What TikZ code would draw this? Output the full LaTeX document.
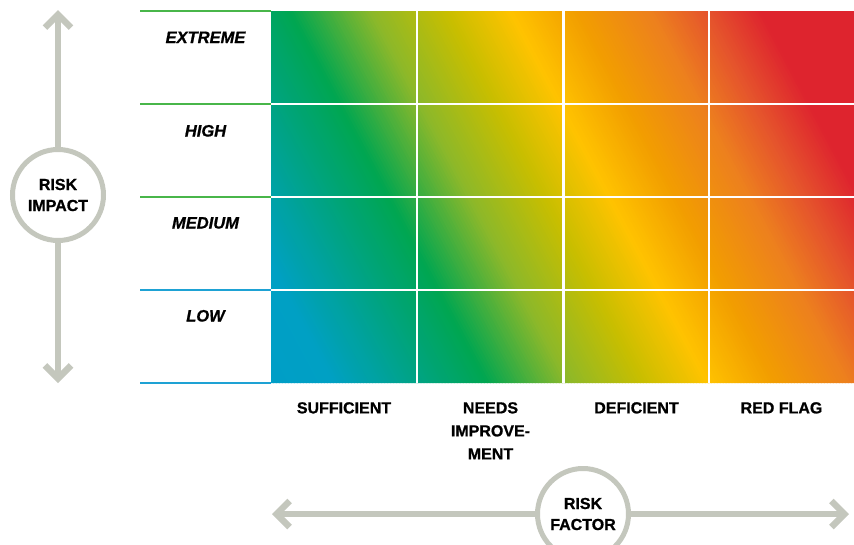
\documentclass[tikz,border=0pt]{standalone}
\usepackage{fontspec}
\setmainfont{Liberation Sans}[BoldFeatures={FakeBold=0.9},BoldItalicFeatures={FakeBold=0.9}]
\definecolor{rgray}{RGB}{196,199,189}
\definecolor{lgreen}{RGB}{72,182,74}
\definecolor{lblue}{RGB}{30,162,212}
\definecolor{g0}{RGB}{0,157,200}
\definecolor{g1}{RGB}{0,160,196}
\definecolor{g2}{RGB}{0,166,81}
\definecolor{g3}{RGB}{140,184,42}
\definecolor{g4}{RGB}{200,190,0}
\definecolor{g5}{RGB}{255,195,0}
\definecolor{g6}{RGB}{242,158,0}
\definecolor{g7}{RGB}{237,128,30}
\definecolor{g8}{RGB}{229,84,44}
\definecolor{g9}{RGB}{222,36,46}
\definecolor{g10}{RGB}{222,36,46}
\begin{document}
\begin{tikzpicture}[x=1pt,y=-1pt,
  rowlab/.style={font=\fontsize{16.5}{20}\selectfont\bfseries\itshape, anchor=base, inner sep=0pt},
  collab/.style={font=\fontsize{16}{23}\selectfont\bfseries, anchor=north, inner sep=0pt, align=center},
  circ/.style={circle, draw=rgray, line width=5pt, fill=white, minimum size=91pt, inner sep=0pt, align=center, font=\fontsize{16}{21}\selectfont\bfseries},
  shaft/.style={draw=rgray, line width=6.5pt},
  barb/.style={draw=rgray, line width=6.5pt, line join=miter},
  rowline/.style={line width=2.5pt},
  gridline/.style={draw=white, line width=2.5pt}]
\useasboundingbox (0,0) rectangle (854,544);
% gradient field
\begin{scope}
\clip (271,11) rectangle (854,383);
\foreach \i/\j/\pa/\pb in {0/1/40/130, 1/2/130/284, 2/3/284/365, 3/4/365/440, 4/5/440/505, 5/6/505/570, 6/7/570/645, 7/8/645/700, 8/9/700/755, 9/10/755/880}{
  \pgfmathtruncatemacro\n{max(1,round((\pb-\pa)/3))}
  \foreach \k in {1,...,\n}{
    \pgfmathsetmacro\ca{\pa+(\k-1)*(\pb-\pa)/\n}
    \pgfmathsetmacro\cb{\pa+\k*(\pb-\pa)/\n+0.8}
    \pgfmathtruncatemacro\pct{100-round(100*(\k-0.5)/\n)}
    \fill[color=g\i!\pct!g\j] (\ca+5.83,11) -- (\cb+5.83,11) -- (\cb+202.99,383) -- (\ca+202.99,383) -- cycle;
  }
}
\end{scope}
% white grid lines
\foreach \yy in {104,197,290}{\draw[gridline] (271,\yy) -- (854,\yy);}
\foreach \xx in {417,563.5,709}{\draw[gridline] (\xx,11) -- (\xx,383);}
% left rules
\foreach \yy in {11,104,197}{\draw[rowline, lgreen] (140,\yy) -- (271,\yy);}
\foreach \yy in {290,383}{\draw[rowline, lblue] (140,\yy) -- (271,\yy);}
% row labels
\node[rowlab] (extreme) at (205.5,43) {EXTREME};
\node[rowlab] (high) at (205.5,136.5) {HIGH};
\node[rowlab] (medium) at (205.5,228.5) {MEDIUM};
\node[rowlab] (low) at (205.5,321.5) {LOW};
% column labels
\node[collab] (suff) at (344,402) {SUFFICIENT};
\node[collab] (needs) at (490.5,402) {NEEDS\\IMPROVE-\\MENT};
\node[collab] (defi) at (636.5,402) {DEFICIENT};
\node[collab] (red) at (781.5,402) {RED FLAG};
% vertical axis
\coordinate (ttip) at (58,14.6);
\coordinate (btip) at (58,378.4);
\node[circ] (imp) at (58,195) {RISK\\IMPACT};
\draw[shaft] (imp.north) -- (ttip);
\draw[shaft] (imp.south) -- (btip);
\draw[barb] (ttip) ++(-13,13) -- (ttip) -- ++(13,13);
\draw[barb] (btip) ++(-13,-13) -- (btip) -- ++(13,-13);
% horizontal axis
\coordinate (ltip) at (276.6,514);
\coordinate (rtip) at (844.4,514);
\node[circ] (fac) at (583,514) {RISK\\FACTOR};
\draw[shaft] (fac.west) -- (ltip);
\draw[shaft] (fac.east) -- (rtip);
\draw[barb] (ltip) ++(13,-13) -- (ltip) -- ++(13,13);
\draw[barb] (rtip) ++(-13,-13) -- (rtip) -- ++(-13,13);
\end{tikzpicture}
\end{document}
